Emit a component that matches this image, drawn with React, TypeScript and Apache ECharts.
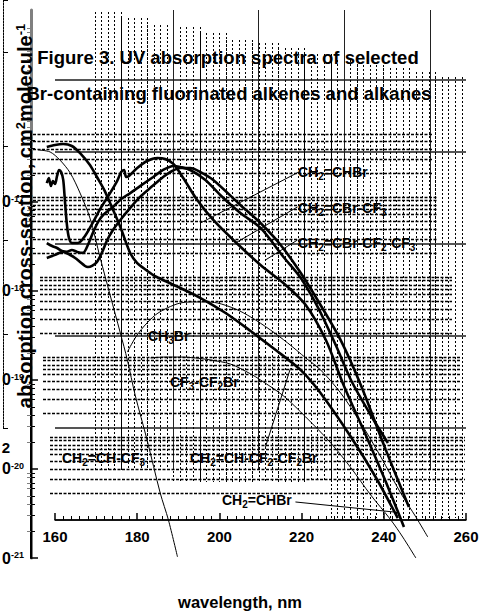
import { useEffect, useRef } from "react";
import * as echarts from "echarts";

const FONT = '"Liberation Sans", Arial, Helvetica, sans-serif';

// ---- axis values ----
const wavelengthTicks = [160, 180, 200, 220, 240, 260];
const sigmaDecades = [1e-21, 1e-20, 1e-19, 1e-18, 1e-17];
const minorMultipliers = [2, 3, 4, 5, 6, 7, 8, 9];

// ---- series (wavelength nm, cross-section cm2 molecule-1) ----
const chbrNm = [158.0, 158.5, 159.0, 159.5, 160.0, 160.5, 161.0, 161.5, 162.0, 162.4, 162.9, 163.4, 164.1, 165.6, 167.3, 169.3, 171.0, 173.4, 175.1, 176.1, 176.8, 177.3, 178.0, 180.0, 182.4, 184.9, 186.8, 188.8, 191.2, 194.6, 198.5, 203.9, 210.0, 216.1, 221.0, 225.9, 230.2, 235.6, 240.5, 244.9];
const chbrSigma = [1.63e-17, 1.86e-17, 1.51e-17, 1.72e-17, 1.59e-17, 1.96e-17, 2.29e-17, 2.17e-17, 1.77e-17, 1.05e-17, 5.52e-18, 3.94e-18, 3.46e-18, 3.46e-18, 4.15e-18, 5.97e-18, 8.36e-18, 1.26e-17, 1.72e-17, 2.17e-17, 2.29e-17, 1.91e-17, 1.96e-17, 2.41e-17, 2.89e-17, 3.12e-17, 3.04e-17, 2.68e-17, 1.86e-17, 1.05e-17, 6.28e-18, 3.55e-18, 1.96e-18, 1.17e-18, 6.96e-19, 2.81e-19, 8.8e-20, 2.41e-20, 7.15e-21, 2.23e-21];

const cbrcf3Nm = [158.0, 159.3, 160.5, 161.7, 162.9, 164.1, 165.4, 166.8, 168.0, 169.3, 170.5, 171.7, 174.1, 176.1, 178.3, 180.7, 183.9, 186.3, 188.8, 190.5, 192.9, 196.6, 200.2, 205.1, 210.0, 215.6, 219.8, 223.9, 228.3, 232.0, 236.8, 241.0];
const cbrcf3Sigma = [3.46e-18, 3.2e-18, 3.04e-18, 2.81e-18, 2.75e-18, 2.89e-18, 2.75e-18, 2.68e-18, 3.29e-18, 4.6e-18, 5.97e-18, 7.15e-18, 8.8e-18, 1.08e-17, 1.26e-17, 1.51e-17, 1.91e-17, 2.29e-17, 2.54e-17, 2.47e-17, 2.29e-17, 1.77e-17, 1.2e-17, 7.53e-18, 5.11e-18, 2.41e-18, 1.4e-18, 6.62e-19, 2.47e-19, 1.0e-19, 4.04e-20, 1.96e-20];

const cbrc2f5Nm = [158.0, 159.3, 160.5, 162.0, 163.7, 164.9, 166.1, 167.3, 168.0, 169.0, 170.2, 171.5, 172.7, 174.1, 175.9, 178.3, 180.7, 183.7, 186.3, 188.5, 190.5, 192.9, 195.4, 198.5, 205.1, 210.0, 214.9, 219.8, 224.6, 229.5, 234.4, 240.5, 246.1];
const cbrc2f5Sigma = [2.35e-18, 2.47e-18, 2.61e-18, 2.75e-18, 2.54e-18, 2.35e-18, 2.12e-18, 1.91e-18, 1.86e-18, 1.91e-18, 2.12e-18, 2.75e-18, 3.74e-18, 4.85e-18, 6.28e-18, 8.58e-18, 1.14e-17, 1.51e-17, 1.91e-17, 2.23e-17, 2.41e-17, 2.41e-17, 2.17e-17, 1.77e-17, 9.27e-18, 5.81e-18, 3.29e-18, 1.59e-18, 6.96e-19, 2.81e-19, 8.8e-20, 1.63e-20, 3.74e-21];

const chcf2cf2brNm = [158.0, 160.0, 162.0, 164.1, 166.1, 168.5, 170.2, 172.0, 173.4, 175.9, 178.3, 180.0, 181.5, 183.9, 186.3, 190.5, 195.4, 201.5, 207.6, 213.7, 219.8, 224.6, 232.0, 238.0, 243.4];
const chcf2cf2brSigma = [4.15e-17, 4.37e-17, 4.48e-17, 4.26e-17, 3.55e-17, 2.61e-17, 1.91e-17, 1.36e-17, 9.75e-18, 5.24e-18, 2.67e-18, 2.06e-18, 1.81e-18, 1.51e-18, 1.33e-18, 1.08e-18, 8.34e-19, 5.66e-19, 3.55e-19, 2.17e-19, 1.29e-19, 7.14e-20, 2.29e-20, 8.13e-21, 2.81e-21];

const chcf3Nm = [155.9, 158.8, 161.2, 163.7, 166.1, 168.5, 171.0, 173.4, 175.9, 177.6, 179.5, 182.4, 185.6, 187.6, 189.8];
const chcf3Sigma = [3.84e-17, 3.65e-17, 2.96e-17, 2.12e-17, 1.26e-17, 6.61e-18, 2.35e-18, 9.02e-19, 3.37e-19, 1.68e-19, 6.78e-20, 2.12e-20, 5.37e-21, 2.67e-21, 1.03e-21];

const ch3brNm = [177.6, 179.5, 181.5, 184.4, 187.3, 190.5, 192.9, 196.6, 199.5, 203.9, 207.6, 212.4, 216.6, 221.0, 224.6, 229.5, 234.4, 239.3, 244.1, 247.8, 250.7];
const ch3brSigma = [2.06e-19, 2.96e-19, 3.94e-19, 5.37e-19, 6.45e-19, 7.34e-19, 7.53e-19, 7.53e-19, 7.34e-19, 6.28e-19, 5.11e-19, 3.65e-19, 2.61e-19, 1.77e-19, 1.3e-19, 7.15e-20, 3.29e-20, 1.36e-20, 5.37e-21, 2.89e-21, 1.72e-21];

const cf3cf2brNm = [183.2, 186.8, 190.5, 194.1, 197.8, 202.7, 207.6, 210.0, 215.6, 221.0, 227.1, 232.0, 236.8, 241.7, 244.6, 247.8];
const cf3cf2brSigma = [1.77e-19, 1.81e-19, 1.81e-19, 1.77e-19, 1.68e-19, 1.51e-19, 1.17e-19, 1.0e-19, 6.62e-20, 3.84e-20, 1.96e-20, 1.03e-20, 5.11e-21, 2.68e-21, 1.72e-21, 1.0e-21];

// leader lines: [from, to] in (nm, sigma)
const leaderLines = [
  [[219.3, 2.17e-17], [195.4, 5.81e-18]],
  [[219.0, 8.8e-18], [203.9, 3.46e-18]],
  [[219.0, 3.74e-18], [211.2, 2.23e-18]],
  [[211.2, 1.77e-20], [217.3, 1.36e-19]],
  [[218.5, 4.26e-21], [242.4, 3.29e-21]],
];

const curves = [
  { name: "CH2=CHBr", nm: chbrNm, sigma: chbrSigma, thick: true },
  { name: "CH2=CBr-CF3", nm: cbrcf3Nm, sigma: cbrcf3Sigma, thick: true },
  { name: "CH2=CBr-CF2-CF3", nm: cbrc2f5Nm, sigma: cbrc2f5Sigma, thick: true },
  { name: "CH2=CH-CF2-CF2Br", nm: chcf2cf2brNm, sigma: chcf2cf2brSigma, thick: true },
  { name: "CH2=CH-CF3", nm: chcf3Nm, sigma: chcf3Sigma, thick: false },
  { name: "CH3Br", nm: ch3brNm, sigma: ch3brSigma, thick: false },
  { name: "CF3-CF2Br", nm: cf3cf2brNm, sigma: cf3cf2brSigma, thick: false },
];

function buildOption() {
  const grids: any[] = [];
  const xAxes: any[] = [];
  const yAxes: any[] = [];
  const series: any[] = [];
  const off = { show: false };
  const baseGrid = { outerBoundsMode: "none", containLabel: false, show: false };

  const minorTicks: number[] = [];
  [1e-21, 1e-20, 1e-19, 1e-18, 1e-17, 1e-16, 1e-15].forEach((d) =>
    minorMultipliers.forEach((m) => minorTicks.push(m * d))
  );

  // ---- decoration: vertical dotted groups ----
  const vTops = [12, 18, 25, 27, 33, 40, 43, 48, 54, 60, 65, 68, 72, 77];
  const vBottoms = [470, 470, 470, 482, 482, 482, 482, 482, 482, 518, 518, 518, 518, 518];
  vTops.forEach((t, i) => {
    const gi = grids.length;
    grids.push({ ...baseGrid, left: 95 + i * 26.2, top: t, width: 26.2, height: vBottoms[i] - t });
    xAxes.push({
      gridIndex: gi, type: "value", min: 0, max: 4, interval: 1,
      axisLine: off, axisTick: off, axisLabel: off,
      splitLine: { show: true, lineStyle: { color: "#000", width: 1, type: [2, 2] } },
    });
    yAxes.push({ gridIndex: gi, type: "value", min: 0, max: 1, show: false });
  });

  // ---- decoration: horizontal log-paper dotted lines ----
  const paper = [
    { top: 117, left: 33, right: 432, ks: [2, 3, 4, 5, 6] },
    { top: 197, left: 33, right: 437, ks: [2, 3, 4, 5, 6, 7, 8, 9, 10] },
    { top: 277, left: 40, right: 452, ks: [2, 3, 4, 5, 6, 7, 8, 9, 10] },
    { top: 357, left: 43, right: 460, ks: [2, 3, 4, 5, 6, 7, 8, 9, 10] },
    { top: 437, left: 50, right: 465, ks: [2, 3, 4, 5, 6, 7, 8, 9, 10] },
  ];
  paper.forEach((p) => {
    const gi = grids.length;
    grids.push({ ...baseGrid, left: p.left, top: p.top, width: p.right - p.left, height: 80 });
    xAxes.push({ gridIndex: gi, type: "value", min: 0, max: 1, show: false });
    yAxes.push({ gridIndex: gi, type: "log", logBase: 10, min: 1, max: 10, show: false });
    series.push({
      type: "line", xAxisIndex: gi, yAxisIndex: gi, data: [], silent: true,
      markLine: {
        silent: true, symbol: ["none", "none"], label: { show: false }, animation: false,
        lineStyle: { color: "#000", width: 1.3, type: [3, 1.5], opacity: 1 },
        data: p.ks.map((k) => ({ yAxis: k })),
      },
    });
  });

  // ---- decoration: solid vertical lines ----
  {
    const gi = grids.length;
    grids.push({ ...baseGrid, left: 173, top: 10, width: 257, height: 460 });
    xAxes.push({
      gridIndex: gi, type: "value", min: 0, max: 3, interval: 1,
      axisLine: off, axisTick: off, axisLabel: off,
      splitLine: { show: true, lineStyle: { color: "#222", width: 1 } },
    });
    yAxes.push({ gridIndex: gi, type: "value", min: 0, max: 1, show: false });
  }

  // ---- dotted line at far left ----
  {
    const gi = grids.length;
    grids.push({ ...baseGrid, left: 3, top: 0, width: 20, height: 428 });
    xAxes.push({ gridIndex: gi, type: "value", min: 0, max: 1, show: false });
    yAxes.push({
      gridIndex: gi, type: "value", min: 0, max: 4.553, interval: 1, position: "left",
      axisLine: { show: true, lineStyle: { color: "#000", width: 1, type: [2, 1] } },
      axisTick: { show: true, inside: true, length: 5, lineStyle: { color: "#000" } },
      axisLabel: off, splitLine: off,
    });
  }

  // ---- gray right axis ----
  {
    const gi = grids.length;
    grids.push({ ...baseGrid, left: 31, top: 10, width: 398, height: 548 });
    xAxes.push({ gridIndex: gi, type: "value", min: 0, max: 1, show: false });
    yAxes.push({
      gridIndex: gi, type: "log", logBase: 10, min: 1e-21, max: 1.435e-15, position: "right",
      axisLine: { show: true, lineStyle: { color: "#808080", width: 3 } },
      axisTick: { show: true, inside: true, length: 4, customValues: minorTicks, lineStyle: { color: "#808080", width: 1 } },
      axisLabel: off, splitLine: off, minorTick: off, minorSplitLine: off,
    });
  }

  // ---- visible wavelength axis and solid horizontal lines ----
  {
    const gi = grids.length;
    grids.push({ ...baseGrid, left: 55, top: 80, width: 411, height: 440 });
    xAxes.push({
      gridIndex: gi, type: "value", position: "bottom",
      min: wavelengthTicks[0], max: wavelengthTicks[wavelengthTicks.length - 1],
      interval: wavelengthTicks[1] - wavelengthTicks[0],
      axisLine: { show: true, onZero: false, lineStyle: { color: "#000", width: 1.5 } },
      axisTick: { show: true, inside: true, length: 7, lineStyle: { color: "#000", width: 1.5 } },
      minorTick: { show: true, splitNumber: 10, length: 4, lineStyle: { color: "#000", width: 1 } },
      axisLabel: {
        show: true, margin: 9, fontSize: 15, fontWeight: "bold", color: "#000", fontFamily: FONT,
        showMinLabel: true, showMaxLabel: true,
      },
      splitLine: off,
    });
    yAxes.push({
      gridIndex: gi, type: "value", min: 0, max: 4.7826, interval: 1,
      axisLine: off, axisTick: off, axisLabel: off,
      splitLine: { show: true, lineStyle: { color: "#555", width: 2 } },
    });
  }

  // ---- data grid with the log cross-section axis ----
  const dg = grids.length;
  grids.push({ ...baseGrid, left: 31, top: 133, width: 397, height: 425 });
  xAxes.push({ gridIndex: dg, type: "value", min: 154.16, max: 250.75, show: false });
  yAxes.push({
    gridIndex: dg, type: "log", logBase: 10, min: 1e-21, max: 5.96e-17, position: "left",
    axisLine: { show: true, lineStyle: { color: "#000", width: 2 } },
    axisTick: { show: true, inside: true, length: 7, customValues: sigmaDecades, lineStyle: { color: "#000", width: 1.5 } },
    axisLabel: {
      show: true, customValues: sigmaDecades, margin: 7,
      // the reference's labels are cut at the page edge: only "0" and the exponent show
      formatter: (v: number) => `{b|0}{s|${Math.round(Math.log10(v))}}`,
      rich: {
        b: { fontSize: 16, fontWeight: "bold", color: "#000", fontFamily: FONT },
        s: { fontSize: 9, fontWeight: "bold", color: "#000", fontFamily: FONT, padding: [0, 0, 6, 0] },
      },
    },
    splitLine: off, minorTick: off, minorSplitLine: off,
  });
  const dgMinor = yAxes.length;
  yAxes.push({
    gridIndex: dg, type: "log", logBase: 10, min: 1e-21, max: 5.96e-17, position: "left",
    axisLine: off,
    axisTick: { show: true, inside: true, length: 4, customValues: minorTicks, lineStyle: { color: "#000", width: 1 } },
    axisLabel: off, splitLine: off, minorTick: off, minorSplitLine: off,
  });
  const dgX = xAxes.length - 1;
  const dgY = dgMinor - 1;

  curves.forEach((c) => {
    series.push({
      name: c.name, type: "line", xAxisIndex: dgX, yAxisIndex: dgY,
      data: c.nm.map((x, i) => [x, c.sigma[i]]),
      showSymbol: false, symbol: "none", smooth: 0.3, silent: true,
      lineStyle: { color: "#000", width: c.thick ? 2.6 : 1 },
    });
  });
  series.push({
    type: "line", xAxisIndex: dgX, yAxisIndex: dgY, data: [], silent: true,
    markLine: {
      silent: true, symbol: ["none", "none"], label: { show: false }, animation: false,
      lineStyle: { color: "#000", width: 1, type: "solid" },
      data: leaderLines.map((l) => [{ coord: l[0] }, { coord: l[1] }]),
    },
  });

  // ---- texts ----
  const richLab = {
    n: { fontSize: 14, fontWeight: "bold", fontFamily: FONT, fill: "#000", color: "#000" },
    s: { fontSize: 10, fontWeight: "bold", fontFamily: FONT, fill: "#000", color: "#000", padding: [9, 0, 0, 0] },
  };
  const label = (x: number, y: number, text: string) => ({
    type: "text", x, y, z: 20, silent: true,
    style: { text, rich: richLab, fill: "#000", align: "left", textAlign: "left", verticalAlign: "middle", textVerticalAlign: "middle" },
  });
  const plain = (x: number, y: number, text: string, size: number) => ({
    type: "text", x, y, z: 20, silent: true,
    style: {
      text, fill: "#000", fontSize: size, fontWeight: "bold", fontFamily: FONT,
      align: "center", textAlign: "center", verticalAlign: "middle", textVerticalAlign: "middle",
    },
  });

  const graphic = [
    plain(228, 57, "Figure 3. UV absorption spectra of selected", 18.5),
    plain(229, 93, "Br-containing fluorinated alkenes and alkanes", 18.5),
    plain(240, 602, "wavelength, nm", 16.5),
    plain(6, 447, "2", 15),
    {
      type: "text", x: 25, y: 216, rotation: Math.PI / 2, z: 20, silent: true,
      style: {
        text: "{m|absorption cross-section, cm}{p|2}{m|molecule}{p|-1}",
        rich: {
          m: { fontSize: 20, fontWeight: "bold", fontFamily: FONT, fill: "#000", color: "#000" },
          p: { fontSize: 13, fontWeight: "bold", fontFamily: FONT, fill: "#000", color: "#000", padding: [0, 0, 9, 0] },
        },
        fill: "#000", align: "center", textAlign: "center", verticalAlign: "middle", textVerticalAlign: "middle",
      },
    },
    label(298, 172, "{n|CH}{s|2}{n|=CHBr}"),
    label(298, 208, "{n|CH}{s|2}{n|=CBr-CF}{s|3}"),
    label(298, 243, "{n|CH}{s|2}{n|=CBr-CF}{s|2}{n|-CF}{s|3}"),
    label(148, 336, "{n|CH}{s|3}{n|Br}"),
    label(170, 382, "{n|CF}{s|3}{n|-CF}{s|2}{n|Br}"),
    label(62, 458, "{n|CH}{s|2}{n|=CH-CF}{s|3}"),
    label(190, 458, "{n|CH}{s|2}{n|=CH-CF}{s|2}{n|-CF}{s|2}{n|Br}"),
    label(222, 500, "{n|CH}{s|2}{n|=CHBr}"),
  ];

  return {
    animation: false,
    backgroundColor: "#fff",
    tooltip: { show: false },
    grid: grids,
    xAxis: xAxes,
    yAxis: yAxes,
    series,
    graphic,
  };
}

export default function App() {
  const ref = useRef<HTMLDivElement>(null);
  useEffect(() => {
    if (!ref.current) return;
    const chart = echarts.init(ref.current, null, { renderer: "svg" });
    chart.setOption(buildOption() as any);
    return () => chart.dispose();
  }, []);
  return (
    <div
      ref={ref}
      style={{ position: "absolute", left: 0, top: 0, width: 479, height: 613, background: "#fff" }}
    />
  );
}
